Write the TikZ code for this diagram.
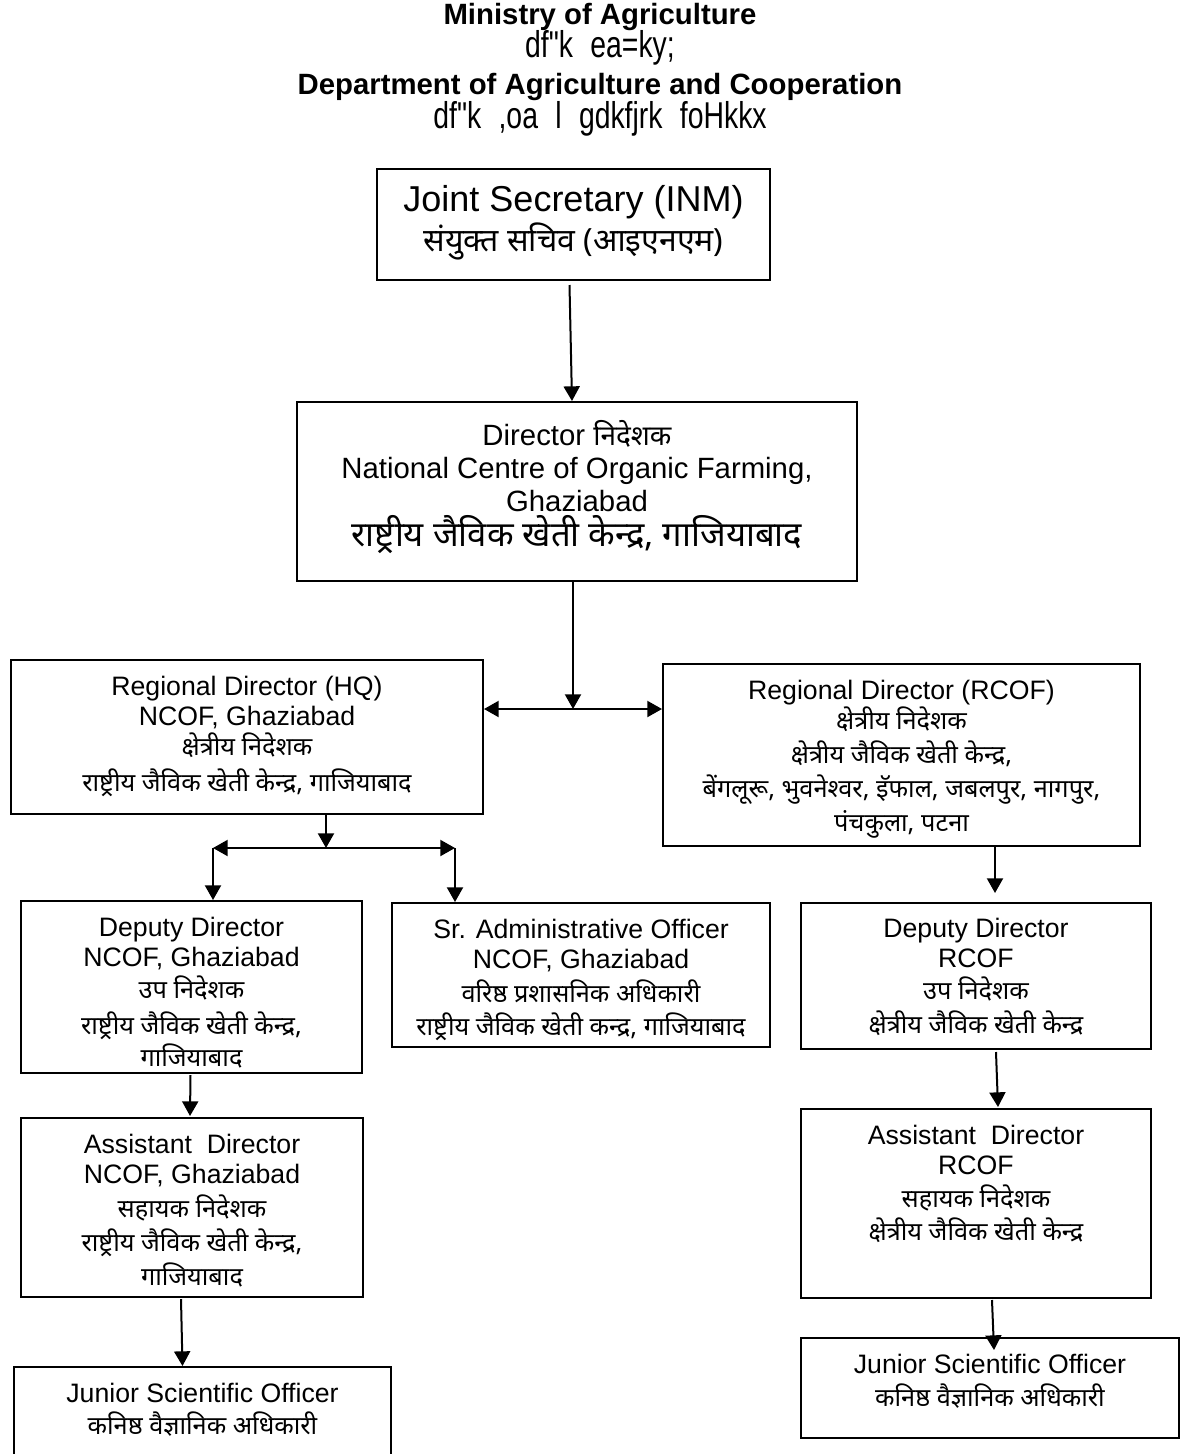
\documentclass[tikz,border=0pt]{standalone}
\usepackage{fontspec}
\setmainfont{Liberation Sans}
\newfontfamily\hindi[Script=Devanagari]{Noto Sans}
\newfontfamily\kruti[FakeStretch=0.76,WordSpace=2.2]{Liberation Sans}
\usepackage{tikz}
\usetikzlibrary{arrows.meta,calc,positioning}
\newcommand{\hn}[2][19]{{\hindi\fontsize{#1}{22.5}\selectfont #2}}

\begin{document}
\begin{tikzpicture}[x=0.75pt,y=-0.75pt,
  box/.style={draw,line width=1.5pt,inner sep=0pt,anchor=north west},
  txt/.style={align=center,inner sep=0pt,font=\fontsize{20}{22.5}\selectfont},
  head/.style={font=\fontsize{22}{24}\selectfont\bfseries,inner sep=0pt},
  kr/.style={font=\kruti\fontsize{28}{30}\selectfont,inner sep=0pt},
  arr/.style={line width=1.5pt,-{Triangle[width=12pt,length=11pt]}},
  dbl/.style={line width=1.5pt,{Triangle[width=12pt,length=11pt]}-{Triangle[width=12pt,length=11pt]}}]
  \useasboundingbox (0,0) rectangle (1186,1454);
  \node[head] (min) at (600,17) {Ministry of Agriculture};
  \node[kr] (minh) at (600,48) {df"k ea=ky;};
  \node[head] (dep) at (600,87) {Department of Agriculture and Cooperation};
  \node[kr] (deph) at (600,119) {df"k ,oa l gdkfjrk foHkkx};
  \node[box,minimum width=294.75pt,minimum height=83.25pt] (js) at (376,168) {};
  \node[box,minimum width=420pt,minimum height=134.25pt] (dir) at (296,401) {};
  \node[box,minimum width=354pt,minimum height=115.5pt] (hq) at (10,659) {};
  \node[box,minimum width=357.75pt,minimum height=136.5pt] (rcof) at (662,663) {};
  \node[box,minimum width=255.75pt,minimum height=129pt] (ddn) at (20,900) {};
  \node[box,minimum width=283.5pt,minimum height=108pt] (sao) at (391,902) {};
  \node[box,minimum width=262.5pt,minimum height=109.5pt] (ddr) at (800,902) {};
  \node[box,minimum width=256.5pt,minimum height=134.25pt] (adn) at (20,1117) {};
  \node[box,minimum width=262.5pt,minimum height=141.75pt] (adr) at (800,1108) {};
  \node[box,minimum width=282.75pt,minimum height=75pt] (jsn) at (13,1366) {};
  \node[box,minimum width=283.5pt,minimum height=75pt] (jsr) at (800,1337) {};
  \node[txt,font=\fontsize{27}{30}\selectfont,below=13pt of js.north] (jst) {Joint Secretary (INM)\\ \hn[24]{संयुक्त सचिव (आइएनएम)}};
  \node[txt,font=\fontsize{22}{25}\selectfont,below=14pt of dir.north] (dirt) {Director \hn[21]{निदेशक}\\ National Centre of Organic Farming,\\ Ghaziabad\\[1pt] \hn[26]{राष्ट्रीय जैविक खेती केन्द्र, गाजियाबाद}};
  \node[txt,below=13pt of hq.north] (hqt) {Regional Director (HQ)\\ NCOF, Ghaziabad\\ \hn{क्षेत्रीय निदेशक}\\[4pt] \hn{राष्ट्रीय जैविक खेती केन्द्र, गाजियाबाद}};
  \node[txt,below=13pt of rcof.north] (rcoft) {Regional Director (RCOF)\\ \hn{क्षेत्रीय निदेशक}\\[2.5pt] \hn{क्षेत्रीय जैविक खेती केन्द्र,}\\[3pt] \hn{बेंगलूरू, भुवनेश्वर, इॅफाल, जबलपुर, नागपुर,}\\[3pt] \hn{पंचकुला, पटना}};
  \node[txt,below=13pt of ddn.north] (ddnt) {Deputy Director\\ NCOF, Ghaziabad\\[1.5pt] \hn{उप निदेशक}\\[4pt] \hn{राष्ट्रीय जैविक खेती केन्द्र,}\\[2pt] \hn{गाजियाबाद}};
  \node[txt,below=13pt of sao.north] (saot) {Sr. Administrative Officer\\ NCOF, Ghaziabad\\[3pt] \hn{वरिष्ठ प्रशासनिक अधिकारी}\\[2pt] \hn{राष्ट्रीय जैविक खेती कन्द्र, गाजियाबाद}};
  \node[txt,below=12pt of ddr.north] (ddrt) {Deputy Director\\ RCOF\\[1.5pt] \hn{उप निदेशक}\\[3pt] \hn{क्षेत्रीय जैविक खेती केन्द्र}};
  \node[txt,below=13pt of adn.north] (adnt) {Assistant\ \ Director\\ NCOF, Ghaziabad\\[2.5pt] \hn{सहायक निदेशक}\\[3pt] \hn{राष्ट्रीय जैविक खेती केन्द्र,}\\[3pt] \hn{गाजियाबाद}};
  \node[txt,below=13pt of adr.north] (adrt) {Assistant\ \ Director\\ RCOF\\[2pt] \hn{सहायक निदेशक}\\[2pt] \hn{क्षेत्रीय जैविक खेती केन्द्र}};
  \node[txt,below=13pt of jsn.north] (jsnt) {Junior Scientific Officer\\[1pt] \hn{कनिष्ठ वैज्ञानिक अधिकारी}};
  \node[txt,below=13pt of jsr.north] (jsrt) {Junior Scientific Officer\\[2pt] \hn{कनिष्ठ वैज्ञानिक अधिकारी}};
  \coordinate (mid) at (573,709);
  \coordinate (hqj) at (326,848);
  \coordinate (hql) at (213,848);
  \coordinate (hqr) at (455,848);
  \coordinate (rx) at (995,0);
  \draw[arr] ($(js.south)+(-4,4)$) -- ($(dir.north)+(-5,0)$);
  \draw[arr] (mid |- dir.south) -- (mid);
  \draw[dbl] (mid -| hq.east) -- (mid -| rcof.west);
  \draw[arr] (hqj |- hq.south) -- (hqj);
  \draw[dbl] (hql) -- (hqr);
  \draw[arr] (hql) -- (hql |- ddn.north);
  \draw[arr] (hqr) -- (hqr |- sao.north);
  \draw[arr] (rx |- rcof.south) -- ($(rx |- ddr.north)+(0,-9)$);
  \draw[arr] ($(ddr.south)+(20,2)$) -- ($(adr.north)+(22,-1)$);
  \draw[arr] ($(adr.south)+(16,1)$) -- ($(jsr.north)+(4,13)$);
  \draw[arr] ($(ddn.south)+(-1,1)$) -- ($(adn.north)+(-2,-1)$);
  \draw[arr] ($(adn.south)+(-11,1)$) -- ($(jsn.north)+(-20,0)$);
\end{tikzpicture}
\end{document}
